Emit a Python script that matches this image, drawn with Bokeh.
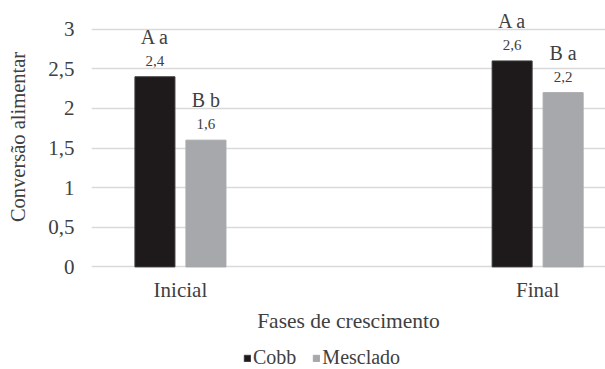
from bokeh.plotting import figure
from bokeh.models import Range1d, FixedTicker, ColumnDataSource, Legend, LegendItem
from bokeh.layouts import column
from bokeh.core.properties import value
from bokeh.embed import file_html
from bokeh.resources import INLINE

categories = ["Inicial", "Final"]
series_names = ["Cobb", "Mesclado"]
cobb = [2.4, 2.6]
mesclado = [1.6, 2.2]
cobb_letters = ["A a", "A a"]
mesclado_letters = ["B b", "B a"]
y_ticks = [0, 0.5, 1, 1.5, 2, 2.5, 3]
y_tick_labels = ["0", "0,5", "1", "1,5", "2", "2,5", "3"]

FONT = "Liberation Serif"
TXT = "#404040"
C_COBB = "#1e1a1b"
C_MESC = "#a6a8ab"

idx = list(range(len(categories)))

def fmt(v):
    return f"{v:.1f}".replace(".", ",")

p = figure(width=605, height=338, output_backend="svg", toolbar_location=None,
           x_range=Range1d(-0.249, 1.19), y_range=Range1d(-0.02, 3.3),
           min_border_left=91, min_border_right=0, min_border_top=5, min_border_bottom=70)
p.outline_line_color = None

off = 0.0714
w = 0.112
src_c = ColumnDataSource(dict(x=[i - off for i in idx], top=cobb,
                              lab=[fmt(v) for v in cobb], let=cobb_letters))
src_m = ColumnDataSource(dict(x=[i + off for i in idx], top=mesclado,
                              lab=[fmt(v) for v in mesclado], let=mesclado_letters))

p.vbar(x="x", top="top", width=w, source=src_c, fill_color=C_COBB, line_color="#3a3a3a")
p.vbar(x="x", top="top", width=w, source=src_m, fill_color=C_MESC, line_color=C_MESC)

for s in (src_c, src_m):
    p.text(x="x", y="top", text="lab", source=s, y_offset=-16, text_align="center",
           text_baseline="middle", text_font=value(FONT), text_font_size="15px", text_color=TXT)
    p.text(x="x", y="top", text="let", source=s, y_offset=-40, text_align="center",
           text_baseline="middle", text_font=value(FONT), text_font_size="20px", text_color=TXT)

p.yaxis.ticker = FixedTicker(ticks=y_ticks)
p.yaxis.major_label_overrides = {t: l for t, l in zip(y_ticks, y_tick_labels)}
p.xaxis.ticker = FixedTicker(ticks=idx)
p.xaxis.major_label_overrides = {i: c for i, c in zip(idx, categories)}

for ax in (p.xaxis, p.yaxis):
    ax.axis_line_color = None
    ax.major_tick_line_color = None
    ax.minor_tick_line_color = None
    ax.major_label_text_font = FONT
    ax.major_label_text_color = TXT
    ax.axis_label_text_font = FONT
    ax.axis_label_text_color = TXT
    ax.axis_label_text_font_style = "normal"

p.yaxis.axis_label_text_font_size = "20.5px"
p.xaxis.axis_label_text_font_size = "21.5px"
p.yaxis.major_label_text_font_size = "21px"
p.xaxis.major_label_text_font_size = "21px"
p.yaxis.major_label_standoff = 11
p.xaxis.major_label_standoff = 3
p.yaxis.axis_label = "Conversão alimentar"
p.xaxis.axis_label = "Fases de crescimento"
p.yaxis.axis_label_standoff = 16
p.xaxis.axis_label_standoff = 4

p.xgrid.grid_line_color = None
p.ygrid.ticker = FixedTicker(ticks=y_ticks)
p.ygrid.grid_line_color = "#d9d9d9"
p.ygrid.grid_line_width = 1.5

# legend strip (swatch renderers sit far outside the visible range)
lg = figure(width=605, height=31, output_backend="svg", toolbar_location=None,
            x_axis_type=None, y_axis_type=None, x_range=(0, 1), y_range=(0, 1),
            min_border=0)
lg.outline_line_color = None
lg.grid.visible = False
r1 = lg.vbar(x=[-50], top=[-50], bottom=[-51], width=0.1, fill_color=C_COBB, line_color="#3a3a3a")
r2 = lg.vbar(x=[-50], top=[-50], bottom=[-51], width=0.1, fill_color=C_MESC, line_color=C_MESC)
legend = Legend(items=[LegendItem(label=series_names[0], renderers=[r1]),
                       LegendItem(label=series_names[1], renderers=[r2])],
                orientation="horizontal", location=(152, 0),
                label_text_font=FONT, label_text_font_size="20px", label_text_color=TXT,
                glyph_width=8, glyph_height=8, label_standoff=2, spacing=16,
                border_line_color=None, background_fill_alpha=0, padding=0, margin=0)
lg.add_layout(legend, "center")

layout = column(p, lg, spacing=0)
open("out.html", "w").write(file_html(layout, INLINE))
